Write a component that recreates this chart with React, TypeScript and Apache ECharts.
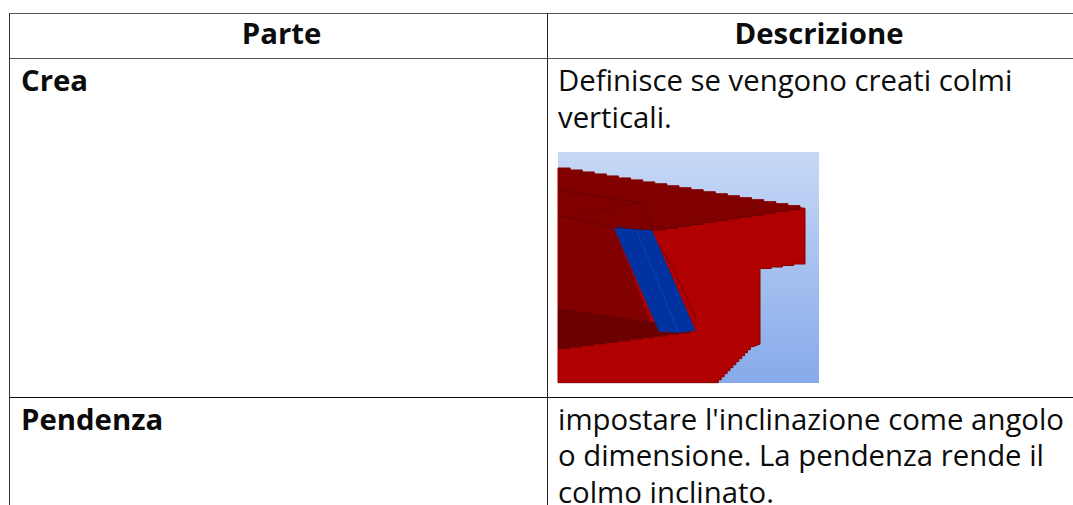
import React, { useEffect, useRef } from "react";
import * as echarts from "echarts";

const FONT = '"Open Sans", sans-serif';
const headers = ["Parte", "Descrizione"];
const rowNames = ["Crea", "Pendenza"];
const creaLines = ["Definisce se vengono creati colmi", "verticali."];
const pendenzaLines = [
  "impostare l'inclinazione come angolo",
  "o dimensione. La pendenza rende il",
  "colmo inclinato.",
];

// illustration outlines, in the 3x units of a 300x260 crop whose origin is (540,140)
const zx = (x: number) => 540 + x / 3;
const zy = (y: number) => 140 + y / 3;
const stair = (a: number[], b: number[], step: number) => {
  const n = Math.max(1, Math.round(Math.abs(b[0] - a[0]) / step));
  const out: number[][] = [];
  for (let i = 0; i < n; i++) {
    const x2 = a[0] + ((b[0] - a[0]) * (i + 1)) / n;
    const y1 = a[1] + ((b[1] - a[1]) * i) / n;
    const y2 = a[1] + ((b[1] - a[1]) * (i + 1)) / n;
    out.push([x2, y1], [x2, y2]);
  }
  return out;
};
const poly = (pts: number[][], fill: string, stroke?: string) => ({
  type: "polygon",
  shape: { points: pts.map(([x, y]) => [zx(x), zy(y)]) },
  style: { fill, stroke: stroke ?? "none", lineWidth: stroke ? 1 : 0 },
});
const path = (pts: number[][], stroke: string, lineWidth = 1) => ({
  type: "polyline",
  shape: { points: pts.map(([x, y]) => [zx(x), zy(y)]) },
  style: { stroke, lineWidth, fill: "none" },
});

const line = (x1: number, y1: number, x2: number, y2: number, stroke = "#000", lineWidth = 1) => ({
  type: "line",
  shape: { x1, y1, x2, y2 },
  style: { stroke, lineWidth },
});

const txt = (text: string, x: number, y: number, bold = false, align = "left") => ({
  type: "text",
  x,
  y,
  style: {
    text,
    fill: "#0c0c0c",
    font: `${bold ? "bold " : ""}29.33px ${FONT}`,
    textAlign: align,
    textVerticalAlign: "middle",
  },
});

export default function App() {
  const ref = useRef<HTMLDivElement>(null);
  useEffect(() => {
    const chart = echarts.init(ref.current!, undefined, { renderer: "svg" });
    const topEdge = [[54, 84], ...stair([54, 84], [780, 203], 36)];
    const roofBottom = [[54, 228], [222, 262], [340, 270], ...stair([340, 270], [780, 203], 36)];
    const heroOutline = [
      ...topEdge,
      [795, 205],
      [795, 372],
      ...stair([795, 372], [660, 390], 36),
      [660, 612],
      [640, 620],
      ...stair([640, 620], [535, 728], 9),
      [54, 728],
    ];
    const lowerEdge = stair([487, 575], [54, 632], 36);
    const elements: any[] = [
      line(9, 13.5, 1073, 13.5, "#555"),
      line(9, 58.5, 1073, 58.5, "#555"),
      line(9, 397.5, 1073, 397.5, "#111"),
      line(9.5, 13, 9.5, 505, "#333"),
      line(547.5, 13, 547.5, 505, "#222"),
      txt(headers[0], 281.5, 33, true, "center"),
      txt(headers[1], 819, 33, true, "center"),
      txt(rowNames[0], 21, 79.5, true),
      txt(rowNames[1], 21, 418.5, true),
      ...creaLines.map((t, i) => txt(t, 558, 80 + i * 37, false)),
      ...pendenzaLines.map((t, i) => txt(t, 558, 418.5 + i * 36.6, false)),
      {
        type: "rect",
        shape: { x: 558, y: 152, width: 261, height: 231 },
        style: {
          fill: new echarts.graphic.LinearGradient(0, 0, 0, 1, [
            { offset: 0, color: "#c6d8f6" },
            { offset: 1, color: "#86aae9" },
          ]),
        },
      },
      poly(heroOutline, "#b00000", "#8a0000"),
      poly([...topEdge, ...[...roofBottom].reverse()], "#800000"),
      poly([[54, 228], [222, 262], [345, 575], [487, 575], ...lowerEdge, [54, 632]], "#820000"),
      poly([[54, 505], [350, 548], [357, 575], [487, 575], ...lowerEdge], "#6a0000"),
      poly([[222, 265], [240, 259], [270, 266], [335, 268], [467, 572], [420, 578], [357, 575]], "#0033a0"),
      path(roofBottom, "#620000"),
      path([[54, 150], [305, 190], [337, 268]], "#660000"),
      path([[120, 222], [305, 188]], "#6c0000"),
      path([[290, 272], [415, 575]], "#0a44b8"),
      path([[357, 312], [400, 385], [470, 540]], "#7a0000"),
    ];
    chart.setOption({ animation: false, graphic: { elements } });
    return () => chart.dispose();
  }, []);
  return (
    <div
      ref={ref}
      style={{ position: "fixed", left: 0, top: 0, width: 1073, height: 505, background: "#fff" }}
    />
  );
}
